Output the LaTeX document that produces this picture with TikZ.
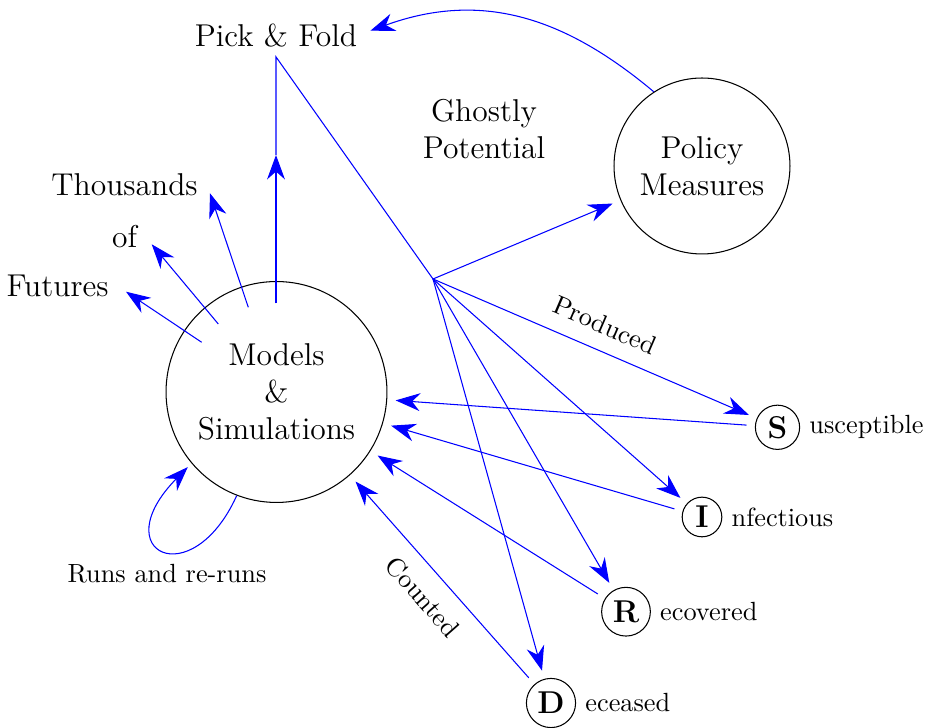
\documentclass[tikz,border=0pt]{standalone}
\usetikzlibrary{arrows.meta}
\begin{document}
\begin{tikzpicture}[x=0.3802pt, y=-0.3802pt,
  arr/.style={blue, -{Stealth[length=9.3pt,width=6.8pt]}},
  rarr/.style={blue, {Stealth[length=9.3pt,width=6.8pt]}-},
  gap/.style={shorten >=3.2pt, shorten <=3.2pt},
  big/.style={font=\large, align=center},
  bigcirc/.style={draw, circle, inner sep=0pt, font=\large, align=center},
  letter/.style={draw, circle, inner sep=1.95pt, font=\large\bfseries}
]
\useasboundingbox (0,0) rectangle (938,728);

% nodes
\node[bigcirc, minimum size=84pt] (m) at (276.5,392) {Models\\\&\\Simulations};
\node[bigcirc, minimum size=66.9pt] (pol) at (702,166) {Policy\\Measures};
\node[big] (pick) at (276,36) {Pick \& Fold};
\node[big] (ghostly) at (484,129) {Ghostly\\Potential};
\node[big] (thou) at (124.5,185) {Thousands};
\node[big] (of) at (124.5,237) {of};
\node[big] (fut) at (57.5,286) {Futures};
\node (runs) at (167,574) {Runs and re-runs};
\node[letter, label=right:usceptible] (S) at (777.5,427.3) {S};
\node[letter, label=right:nfectious] (I) at (702,517) {I};
\node[letter, label=right:ecovered] (R) at (626,611.7) {R};
\node[letter, label=right:eceased] (D) at (551,703) {D};

% coordinates
\coordinate (ghost) at (433,279);
\coordinate (v0) at (276,303.3);
\coordinate (vt) at (276,155);
\coordinate (a1s) at (248.3,307.3);
\coordinate (a1t) at (210,193.3);
\coordinate (a2s) at (218.3,324);
\coordinate (a2t) at (151.7,244.3);
\coordinate (a3s) at (201.7,342.3);
\coordinate (a3t) at (126,291.7);

% thousands of futures
\draw[arr] (a1s) -- (a1t);
\draw[arr] (a2s) -- (a2t);
\draw[arr] (a3s) -- (a3t);

% up to pick & fold and on to the ghost point
\draw[arr] (v0) -- (vt);
\draw[blue] (vt) -- (pick.south) -- (ghost);

% from the ghost point
\draw[arr, shorten >=3.2pt] (ghost) -- (pol);
\draw[arr, shorten >=3.2pt] (ghost) -- node[sloped, above, inner sep=6pt, text=black]{Produced} (S);
\draw[arr, shorten >=3.2pt] (ghost) -- (I);
\draw[arr, shorten >=3.2pt] (ghost) -- (R);
\draw[arr, shorten >=3.2pt] (ghost) -- (D);

% back to models
\draw[arr, gap] (S) -- (m);
\draw[arr, gap] (I) -- (m);
\draw[arr, gap] (R) -- (m);
\draw[rarr, gap] (m) -- node[sloped, below, inner sep=6pt, text=black]{Counted} (D);

% policy back to pick & fold
\draw[arr] (pol.123.3) .. controls (568.4,20.3) and (484.9,-10.9) .. ([shift={(1.5pt,2pt)}]pick.east);

% runs and re-runs loop
\draw[arr, shorten >=2pt] (m.249.6) .. controls (191.5,595.3) and (104.1,552.2) .. (m.220.5);
\end{tikzpicture}
\end{document}
